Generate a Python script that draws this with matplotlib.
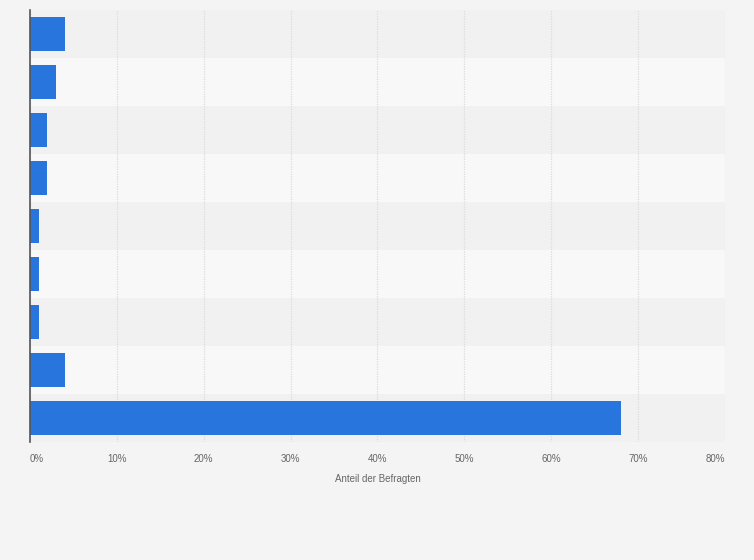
import numpy as np
import matplotlib.pyplot as plt
from matplotlib.ticker import FuncFormatter

# Daten (Kategorienamen sind im Original nicht sichtbar)
categories = ["", "", "", "", "", "", "", "", ""]
shares = [4, 3, 2, 2, 1, 1, 1, 4, 68]
xticks = [0, 10, 20, 30, 40, 50, 60, 70, 80]

plt.rcParams['font.family'] = ['Liberation Sans', 'DejaVu Sans']

fig = plt.figure(figsize=(7.54, 5.60), dpi=100, facecolor='#f4f4f4')
ax = fig.add_axes([30 / 754, (560 - 442) / 560, 695 / 754, 432 / 560])
ax.set_facecolor('#f4f4f4')

y = np.arange(len(shares))
# Hintergrundstreifen
for i in y:
    col = '#f1f1f1' if i % 2 == 0 else '#f8f8f8'
    ax.axhspan(i - 0.5, i + 0.5, color=col, zorder=0, lw=0)

ax.barh(y, shares, height=0.69, color='#2876dd', zorder=3)

ax.set_ylim(len(shares) - 0.5, -0.5)
ax.set_xlim(0, 80)
ax.set_yticks(y)
ax.set_yticklabels(categories)
ax.tick_params(axis='y', length=0)
ax.set_xticks(xticks)
ax.xaxis.set_major_formatter(FuncFormatter(lambda v, p: f"{v:.0f}%"))
ax.tick_params(axis='x', length=0, labelsize=7, colors='#666666', pad=9)
labels = ax.get_xticklabels()
labels[0].set_horizontalalignment('left')
labels[-1].set_horizontalalignment('right')

ax.grid(axis='x', color='#dcdcdc', linestyle=(0, (1, 1)), linewidth=0.9, zorder=1)
for s in ['top', 'right', 'bottom']:
    ax.spines[s].set_visible(False)
ax.spines['left'].set_color('#555555')
ax.spines['left'].set_linewidth(1.2)
ax.spines['left'].set_zorder(4)

ax.set_xlabel("Anteil der Befragten", fontsize=7, color='#666666', labelpad=7)

fig.savefig("out.png", dpi=100, facecolor=fig.get_facecolor())
